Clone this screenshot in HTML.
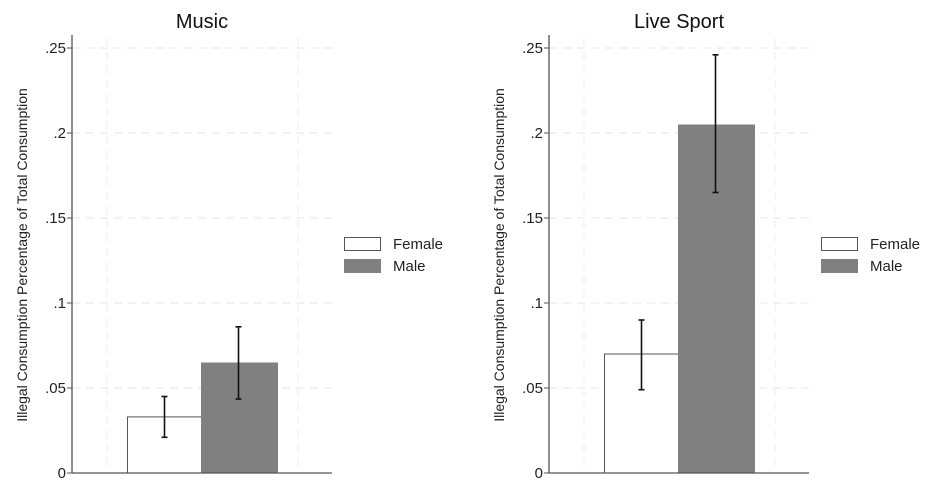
<!DOCTYPE html>
<html><head><meta charset="utf-8"><style>
body{margin:0;background:#fff;width:935px;height:490px;overflow:hidden}
svg{display:block;font-family:"Liberation Sans",Arial,sans-serif}
</style></head><body>
<svg id="c" width="935" height="490"></svg>
<script>
const panels = ["Music", "Live Sport"];
const categories = ["Female", "Male"];
const femaleValues = [0.033, 0.070];
const maleValues = [0.065, 0.205];
const femaleLow = [0.021, 0.049];
const femaleHigh = [0.045, 0.090];
const maleLow = [0.0435, 0.165];
const maleHigh = [0.086, 0.246];
const yTicks = [0, 0.05, 0.1, 0.15, 0.2, 0.25];
const yTickLabels = ["0", ".05", ".1", ".15", ".2", ".25"];

const NS = "http://www.w3.org/2000/svg";
const svg = document.getElementById('c');
function mk(tag, attrs, parent, text){
  const e = document.createElementNS(NS, tag);
  for (const k in attrs) e.setAttribute(k, attrs[k]);
  if (text !== undefined) e.textContent = text;
  (parent || svg).appendChild(e);
  return e;
}
const baseY = 473, pxPerUnit = 1700;
function yScale(v){ return baseY - v * pxPerUnit; }
const offsets = [0, 477];

panels.forEach((title, p) => {
  const ox = offsets[p];
  const g = mk('g', {});
  
  
  const axX = 72 + ox, right = 332 + ox;
  yTicks.forEach((t, i) => {
    if (i === 0) return;
    const gl = mk('line', {x1: axX, x2: right, y1: yScale(t), y2: yScale(t), stroke: '#e6e6e6', 'stroke-width': 1, 'stroke-dasharray': '8,6'}, g);
    
    
  });
  [107, 298].forEach(x => {
    const vl = mk('line', {x1: x + ox, x2: x + ox, y1: 38, y2: baseY, stroke: '#ececec', 'stroke-width': 1, 'stroke-dasharray': '8,6'}, g);
    
    
  });
  const vals = [femaleValues[p], maleValues[p]];
  const lows = [femaleLow[p], maleLow[p]];
  const highs = [femaleHigh[p], maleHigh[p]];
  const barX = [127 + ox, 201 + ox], barW = 77;
  vals.forEach((v, i) => {
    const r = mk('rect', {x: barX[i] + (i === 0 ? 0.5 : 0), y: yScale(v), width: i === 0 ? 74 : barW, height: baseY - yScale(v),
      fill: i === 0 ? '#fff' : '#808080', stroke: i === 0 ? '#555' : 'none', 'stroke-width': 1}, g);
    
    
  });
  vals.forEach((v, i) => {
    const cx = barX[i] + 37.5;
    const eg = mk('g', {stroke: '#111', 'stroke-width': 1.6}, g);
    
    
    mk('line', {x1: cx, x2: cx, y1: yScale(highs[i]), y2: yScale(lows[i])}, eg);
    mk('line', {x1: cx - 3, x2: cx + 3, y1: yScale(highs[i]), y2: yScale(highs[i])}, eg);
    mk('line', {x1: cx - 3, x2: cx + 3, y1: yScale(lows[i]), y2: yScale(lows[i])}, eg);
  });
  const ya = mk('line', {x1: axX, x2: axX, y1: 35, y2: baseY + 0.5, stroke: '#555', 'stroke-width': 1.3}, g);
  
  
  const xa = mk('line', {x1: axX, x2: right, y1: baseY, y2: baseY, stroke: '#555', 'stroke-width': 1.3}, g);
  
  
  yTicks.forEach((t, i) => {
    mk('line', {x1: axX - 5, x2: axX, y1: yScale(t), y2: yScale(t), stroke: '#555', 'stroke-width': 1}, g);
    const tl = mk('text', {x: axX - 6, y: yScale(t) + 5, 'text-anchor': 'end', 'font-size': 15, fill: '#222'}, g, yTickLabels[i]);
    
    
  });
  const yt = mk('text', {transform: `translate(${27 + ox},255) rotate(-90)`, 'text-anchor': 'middle', 'font-size': 14, fill: '#222'}, g, 'Illegal Consumption Percentage of Total Consumption');
  
  
  const tt = mk('text', {x: 202 + ox, y: 28, 'text-anchor': 'middle', 'font-size': 20, fill: '#111'}, g, title);
  
  
  const lg = mk('g', {}, g);
  
  
  categories.forEach((c, i) => {
    const ly = 237 + i * 22;
    const e = mk('g', {}, lg);
    
    
    mk('rect', {x: 344.5 + ox, y: ly + 0.5, width: 36, height: 13, fill: i === 0 ? '#fff' : '#808080', stroke: i === 0 ? '#555' : '#808080'}, e);
    mk('text', {x: 393 + ox, y: ly + 12, 'font-size': 15, fill: '#222'}, e, c);
  });
});
</script>
</body></html>
